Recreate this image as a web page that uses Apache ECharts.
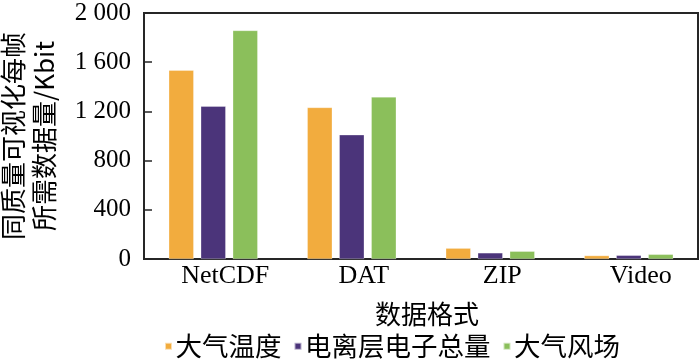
<!DOCTYPE html>
<html><head><meta charset="utf-8">
<script src="https://cdn.jsdelivr.net/npm/echarts@6/dist/echarts.min.js"></script>
<style>html,body{margin:0;padding:0;background:#fff}#c{width:700px;height:363px}</style>
</head><body><div id="c"></div>
<script>
var categories = ['NetCDF', 'DAT', 'ZIP', 'Video'];
var seriesNames = ['大气温度', '电离层电子总量', '大气风场'];
var tempValues = [1535, 1232, 88, 28];
var tecValues = [1242, 1010, 50, 30];
var windValues = [1858, 1318, 63, 38];
var colors = ['#F2AC3E', '#4B347A', '#8BBF5B'];
var yMin = 0, yMax = 2000, yInterval = 400;
var yName = '同质量可视化每帧\n所需数据量/Kbit';
var xName = '数据格式';

var serif = '"Liberation Serif", "Times New Roman", serif';
var cjk = '"Noto Sans CJK SC", sans-serif';
var chart = echarts.init(document.getElementById('c'), null, {renderer: 'canvas'});
var vals = [tempValues, tecValues, windValues];
chart.setOption({
  animation: false,
  color: colors,
  grid: {left: 144, right: 2, top: 13, height: 246, show: true, borderColor: '#262626', borderWidth: 2,
    backgroundColor: 'transparent', containLabel: false, outerBoundsMode: 'none'},
  legend: {
    left: 159, top: 328, itemWidth: 7, itemHeight: 7, itemGap: 12, icon: 'rect',
    textStyle: {fontFamily: cjk, fontSize: 26.5, color: '#000', padding: [0, 0, 0, -1.5]},
    data: seriesNames
  },
  xAxis: {
    type: 'category', data: categories,
    axisLine: {show: true, lineStyle: {color: '#262626', width: 2}},
    axisTick: {show: false},
    axisLabel: {color: '#000', fontFamily: serif, fontSize: 26, margin: 4, padding: [0, 0, 0, 24]},
    name: xName, nameLocation: 'middle', nameGap: 42,
    nameTextStyle: {fontFamily: cjk, fontSize: 26, color: '#000', padding: [0, 0, 0, 12]}
  },
  yAxis: {
    type: 'value', min: yMin, max: yMax, interval: yInterval,
    splitLine: {show: false},
    axisLine: {show: true, lineStyle: {color: '#262626', width: 2}},
    axisTick: {show: true, inside: true, length: 8, lineStyle: {color: '#262626', width: 1.5}},
    axisLabel: {color: '#000', fontFamily: serif, fontSize: 25, margin: 13,
      formatter: function (v) { return v >= 1000 ? Math.floor(v / 1000) + ' ' + String(v % 1000).padStart(3, '0') : String(v); }},
    name: yName, nameLocation: 'middle', nameRotate: 90, nameGap: 84,
    nameTextStyle: {fontFamily: cjk, fontSize: 26, color: '#000', lineHeight: 31}
  },
  series: seriesNames.map(function (n, i) {
    return {name: n, type: 'bar', data: vals[i], barWidth: 25, barGap: '28%',
      itemStyle: {color: colors[i], borderColor: 'rgba(255,255,255,0.6)', borderWidth: 0.5}};
  })
});
</script></body></html>
